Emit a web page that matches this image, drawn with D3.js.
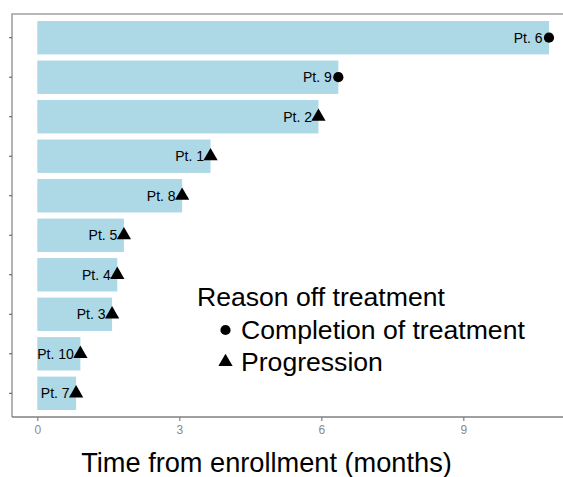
<!DOCTYPE html>
<html>
<head>
<meta charset="utf-8">
<script src="https://cdn.jsdelivr.net/npm/d3@7"></script>
<style>
  html, body { margin: 0; padding: 0; background: #fff; }
  svg { display: block; font-family: "Liberation Sans", Arial, Helvetica, sans-serif; }
</style>
</head>
<body>
<svg id="chart" width="563" height="477"></svg>
<script>
// Patients, ordered top to bottom
const patients = ["Pt. 6", "Pt. 9", "Pt. 2", "Pt. 1", "Pt. 8", "Pt. 5", "Pt. 4", "Pt. 3", "Pt. 10", "Pt. 7"];
// Months from enrollment until going off treatment
const months = [10.81, 6.36, 5.94, 3.66, 3.06, 1.83, 1.69, 1.58, 0.91, 0.82];
// Reason off treatment for each patient
const reasons = ["Completion of treatment", "Completion of treatment", "Progression", "Progression",
                 "Progression", "Progression", "Progression", "Progression", "Progression", "Progression"];
const reasonLevels = ["Completion of treatment", "Progression"];
const xTicks = [0, 3, 6, 9];

const rows = patients.map((p, i) => ({ patient: p, months: months[i], reason: reasons[i] }));

const svg = d3.select("#chart");
const panel = { left: 12, top: 14, right: 570, bottom: 417 };

const x = d3.scaleLinear().domain([0, 3]).range([37.3, 179.3]);
const y = d3.scalePoint().domain(patients).range([panel.top, panel.bottom]).padding(0.6);
const barH = y.step() * 0.845;

const shape = d3.scaleOrdinal().domain(reasonLevels).range([d3.symbolCircle, d3.symbolTriangle]);
const symSize = d3.scaleOrdinal().domain(reasonLevels).range([82, 88]);

// Bars
svg.append("g").selectAll("rect").data(rows).join("rect")
  .attr("x", x(0))
  .attr("y", d => y(d.patient) - barH / 2)
  .attr("width", d => x(d.months) - x(0))
  .attr("height", barH)
  .attr("fill", "#ADD8E6");

// Patient labels at the end of each bar
svg.append("g").selectAll("text").data(rows).join("text")
  .attr("x", d => x(d.months) - 6.5)
  .attr("y", d => y(d.patient))
  .attr("dy", "0.35em")
  .attr("text-anchor", "end")
  .attr("font-size", 14)
  .attr("fill", "#000")
  .text(d => d.patient);

// Markers for the reason off treatment
svg.append("g").selectAll("path").data(rows).join("path")
  .attr("transform", d => `translate(${x(d.months)},${y(d.patient)})`)
  .attr("d", d => d3.symbol().type(shape(d.reason)).size(symSize(d.reason))())
  .attr("fill", "#000");

// Panel border (left and top) and y ticks
svg.append("path")
  .attr("d", `M${panel.left},${panel.bottom}V${panel.top}H${panel.right}`)
  .attr("fill", "none").attr("stroke", "#a0a0a0").attr("stroke-width", 1.6);

svg.append("g").selectAll("line").data(patients).join("line")
  .attr("x1", panel.left - 3).attr("x2", panel.left)
  .attr("y1", d => y(d)).attr("y2", d => y(d))
  .attr("stroke", "#555").attr("stroke-width", 1);

// X axis
const xAxis = svg.append("g")
  .attr("transform", `translate(0,${panel.bottom})`)
  .call(d3.axisBottom(x).tickValues(xTicks).tickSize(4).tickPadding(4).tickFormat(d3.format("d")));
xAxis.select(".domain").remove();
xAxis.insert("line", ":first-child")
  .attr("x1", panel.left).attr("x2", panel.right)
  .attr("stroke", "#7f7f7f").attr("stroke-width", 1.4);
xAxis.selectAll(".tick line").attr("stroke", "#7f7f7f").attr("stroke-width", 1.2);
xAxis.selectAll(".tick text")
  .attr("fill", "#8a8a8a")
  .attr("font-size", 12)
  .attr("font-family", "'Liberation Sans', Arial, sans-serif");

// Axis title
svg.append("text")
  .attr("x", 266.5).attr("y", 472)
  .attr("text-anchor", "middle")
  .attr("font-size", 27.2)
  .attr("fill", "#000")
  .text("Time from enrollment (months)");

// Legend
const legend = svg.append("g").attr("transform", "translate(197,0)");
legend.append("text")
  .attr("x", 0).attr("y", 306)
  .attr("font-size", 26.6)
  .attr("fill", "#000")
  .text("Reason off treatment");

const items = legend.selectAll("g.item").data(reasonLevels).join("g")
  .attr("class", "item")
  .attr("transform", (d, i) => `translate(0,${330 + i * 32})`);
items.append("path")
  .attr("transform", "translate(28.5,0)")
  .attr("d", d => d3.symbol().type(shape(d)).size(symSize(d))())
  .attr("fill", "#000");
items.append("text")
  .attr("x", 44).attr("y", 0)
  .attr("dy", "0.35em")
  .attr("font-size", 26.6)
  .attr("fill", "#000")
  .text(d => d);
</script>
</body>
</html>
